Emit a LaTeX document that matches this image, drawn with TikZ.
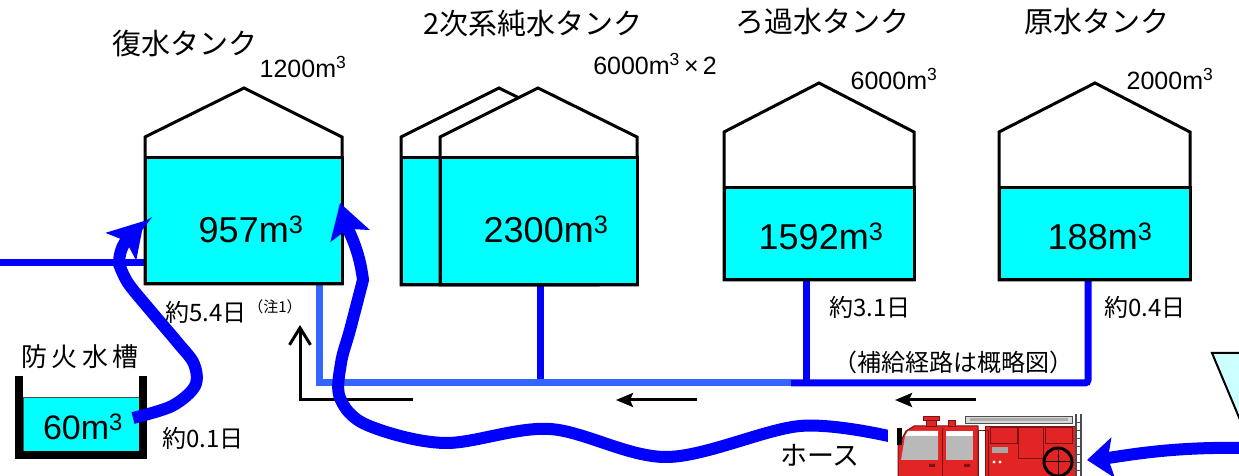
\documentclass[tikz,border=0pt]{standalone}
\usepackage{fontspec}
\setmainfont{Liberation Sans}
\newfontfamily\jp{Noto Sans CJK JP}
\usetikzlibrary{arrows.meta}
\pgfdeclarelayer{pipes}
\pgfsetlayers{pipes,main}

\definecolor{water}{RGB}{0,255,255}
\definecolor{pipeblue}{RGB}{0,0,255}
\definecolor{pipelight}{RGB}{51,102,255}
\definecolor{pool}{RGB}{204,255,255}
\definecolor{truckred}{RGB}{226,36,36}
\definecolor{truckdark}{RGB}{120,20,20}

\newcommand\cub{m\textsuperscript{3}}

\tikzset{
  tankshell/.style={draw=black, line width=3pt, fill=white, line join=miter},
  tankwater/.style={draw=black, line width=3pt, fill=water, inner sep=0pt, outer sep=0pt},
  pipeB/.style={draw=pipeblue, line width=7pt},
  pipeL/.style={draw=pipelight, line width=7pt, line join=miter},
  hoseline/.style={draw=pipeblue, line width=12pt},
  flowarrow/.style={draw=black, line width=3pt},
  volume/.style={anchor=base, inner sep=0pt, font=\fontsize{36}{40}\selectfont},
  poolvolume/.style={anchor=base, inner sep=0pt, font=\fontsize{34}{38}\selectfont},
  capacity/.style={anchor=base, inner sep=0pt, font=\fontsize{25}{28}\selectfont},
  tanktitle/.style={inner sep=0pt, font=\jp\fontsize{29}{32}\selectfont},
  daynote/.style={inner sep=0pt, font=\jp\fontsize{24}{27}\selectfont},
  tinynote/.style={inner sep=0pt, font=\jp\fontsize{15}{17}\selectfont},
  hoselabel/.style={inner sep=0pt, font=\jp\fontsize{27}{30}\selectfont},
  poollabel/.style={inner sep=0pt, font=\jp\fontsize{26}{30}\selectfont\addfontfeatures{LetterSpace=16}},
  bighead/.style={-{Stealth[length=34pt,width=40pt,inset=7pt]}},
}

\begin{document}
\begin{tikzpicture}[x=1pt,y=1pt]
\useasboundingbox (0,0) rectangle (1239,476);
\clip (0,0) rectangle (1239,476);

% ---------------- tanks ----------------
% condensate tank
\draw[tankshell] (145,192) -- (145,339) -- (244,388) -- (342,339) -- (342,192) -- cycle;
\node[tankwater, minimum width=197pt, minimum height=126pt] (t1) at (243.5,255) {};
% secondary pure water tanks (two, one behind the other)
\draw[tankshell] (401,191) -- (401,339) -- (499,388) -- (598,339) -- (598,191) -- cycle;
\node[tankwater, minimum width=197pt, minimum height=127pt] (t2b) at (499.5,254.5) {};
\draw[tankshell] (440,191) -- (440,339) -- (538,388) -- (637,339) -- (637,191) -- cycle;
\node[tankwater, minimum width=197pt, minimum height=127pt] (t2) at (538.5,254.5) {};
% filtered water tank
\draw[tankshell] (724,196) -- (724,344) -- (819,393) -- (914,344) -- (914,196) -- cycle;
\node[tankwater, minimum width=190pt, minimum height=92pt] (t3) at (819,242) {};
% raw water tank
\draw[tankshell] (999,196) -- (999,344) -- (1095,393) -- (1190,344) -- (1190,196) -- cycle;
\node[tankwater, minimum width=191pt, minimum height=92pt] (t4) at (1094.5,242) {};

% volumes
\node[volume] (v1) at (251,233) {957\cub};
\node[volume] (v2) at (546,233) {2300\cub};
\node[volume] (v3) at (821,226) {1592\cub};
\node[volume] (v4) at (1100,226) {188\cub};

% names and capacities
\node[tanktitle] (n1) at (185,432) {復水タンク};
\node[capacity] (c1) at (303,398) {1200\cub};
\node[tanktitle] (n2) at (533,452) {2次系純水タンク};
\node[capacity] (c2) at (655,401) {6000\cub\,×\,2};
\node[tanktitle] (n3) at (822,454) {ろ過水タンク};
\node[capacity] (c3) at (894,386) {6000\cub};
\node[tanktitle] (n4) at (1097,454) {原水タンク};
\node[capacity] (c4) at (1170,386) {2000\cub};

% ---------------- supply piping ----------------
\coordinate (inlet) at (0,213);
\coordinate (j1) at (319,93);
\coordinate (j2) at (540,93);
\coordinate (j3) at (791,93);
\coordinate (j4) at (806,93);
\coordinate (j5) at (1088,93);
\begin{pgfonlayer}{pipes}
  \draw[pipeB] (inlet) -- (inlet -| t1.west);
  \draw[pipeB] (t2.south -| j2) -- (j2);
  \draw[pipeL] (t1.south -| j1) -- (j1) -- (j3);
  \draw[pipeB] (t3.south -| j4) -- (j4);
  \draw[pipeB, rounded corners=3pt] (j3) -- (j5) -- (t4.south -| j5);
\end{pgfonlayer}

% durations
\node[daynote] (d1) at (206,164) {約5.4日};
\node[tinynote] (d1n) at (275,169) {（注1）};
\node[daynote] (d3) at (870,169) {約3.1日};
\node[daynote] (d4) at (1145,169) {約0.4日};
\node[daynote] (route) at (953,114) {（補給経路は概略図）};

% flow direction arrows
\coordinate (fa) at (413,76);
\coordinate (fb) at (300,76);
\coordinate (fc) at (300,151);
\draw[flowarrow, -{Straight Barb[length=17pt,width=21pt]}] (fa) -- (fb) -- (fc);
\coordinate (ga) at (697,76);
\coordinate (gb) at (616,76);
\draw[flowarrow, -{Stealth[length=17pt,width=14pt,inset=3pt]}] (ga) -- (gb);
\coordinate (ha) at (976,76);
\coordinate (hb) at (895,76);
\draw[flowarrow, -{Stealth[length=17pt,width=14pt,inset=3pt]}] (ha) -- (hb);

% ---------------- fire cistern ----------------
\node[draw=black!70, line width=1pt, fill=water, inner sep=0pt, outer sep=0pt,
      minimum width=116pt, minimum height=54pt] (pool) at (81,51) {};
\draw[line width=8pt, line join=miter] (19,100) -- (19,20.5) -- (143,20.5) -- (143,100);
\node[poolvolume] (pv) at (83,36) {60\cub};
\node[poollabel] (pl) at (80,119) {防火水槽};
\node[daynote] (d0) at (203,38) {約0.1日};

% ---------------- hoses ----------------
\coordinate (h1tip) at (340,273);
\coordinate (h2tip) at (144,255);
\draw[hoseline, bighead]
  plot[smooth, tension=0.55] coordinates {(893,39) (800,50) (667,19) (550,47) (445,33) (367,51) (340,78) (341,113) (350,146) (363,196)}
  to[out=97,in=-73] (h1tip);
\draw[hoseline, bighead]
  plot[smooth, tension=0.55] coordinates {(133,58) (172,70) (195,90) (194,112) (178,133) (150,166) (128,193) (119,212)}
  to[out=90,in=228] (h2tip);
\node[hoselabel] (hl) at (820,21) {ホース};

% ---------------- fire engine ----------------
\fill[white] (888,0) rectangle (1086,66);
% ladder on the roof
\draw[gray!60!black, fill=gray!30, line width=0.8pt] (965,53) rectangle (1072,60);
\fill[gray!65] (970,55) rectangle (1068,57.5);
% rear body
\draw[truckdark, fill=truckred, line width=1pt] (985,0) -- (985,49) -- (1076,49) -- (1076,0);
\draw[truckdark, line width=0.8pt] (990,33) rectangle (1017,49);
\draw[truckdark, line width=0.8pt] (1018,18) rectangle (1043,49);
\draw[truckdark, line width=0.8pt] (1045,33) rectangle (1072,49);
\draw[truckdark, line width=0.8pt] (978,0) rectangle (988,46);
\fill[gray!70] (992,23) rectangle (1008,29);
\fill[white] (994,14) circle (1.6pt) (1000,14) circle (1.6pt);
% hose reel
\draw[black, line width=3pt, fill=truckred] (1058,14) circle (14pt);
\draw[black, line width=1pt] (1046,14) -- (1070,14) (1058,2) -- (1058,26);
% rear ladder
\draw[gray!60!black, line width=1.2pt] (1076,0) -- (1076,62) (1081,0) -- (1081,62);
\foreach \yy in {6,14,...,60} \draw[gray!60!black, line width=0.8pt] (1076,\yy) -- (1081,\yy);
% cab
\draw[truckdark, fill=truckred, line width=1pt, line join=round]
  (898,0) -- (898,30) -- (906,45) -- (914,50) -- (978,50) -- (978,0);
\fill[white] (905,40) -- (908,45) -- (938,45) -- (938,40) -- cycle;
\fill[gray!55] (901,16) -- (905,40) -- (938,40) -- (938,16) -- cycle;
\fill[white] (946,40) rectangle (973,45);
\fill[gray!55] (946,16) rectangle (973,40);
\draw[truckdark, line width=0.8pt] (942,0) -- (942,48);
\fill[truckdark] (929,9) rectangle (935,12) (964,9) rectangle (970,12);
% mirror and beacons
\fill[black] (897,31) rectangle (902,48);
\fill[truckred, draw=truckdark, line width=0.6pt] (926,50) rectangle (936,57);
\fill[truckred, draw=truckdark, line width=0.6pt] (923,56) rectangle (939,60);
\fill[truckred, draw=truckdark, line width=0.6pt] (948,50) rectangle (955,56);

% ---------------- outdoor supply ----------------
\draw[line width=2pt, fill=pool] (1212,123) -- (1290,123) -- (1251,30) -- cycle;
\coordinate (h3tip) at (1087,16);
\draw[hoseline, -{Stealth[length=26pt,width=40pt,inset=5pt]}]
  (1250,28) .. controls (1200,29) and (1165,26) .. (1135,22) to[out=188,in=5] (h3tip);

\end{tikzpicture}
\end{document}
